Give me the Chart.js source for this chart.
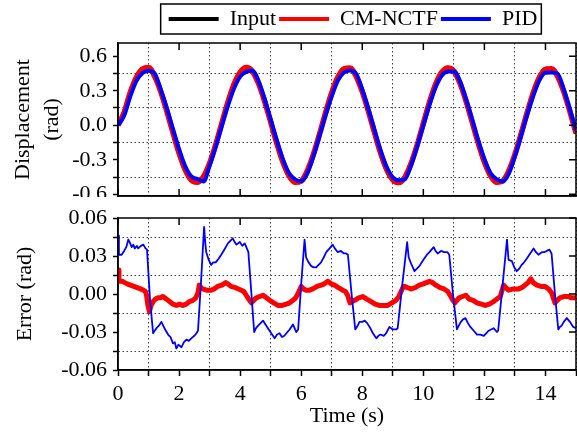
<!DOCTYPE html>
<html>
<head>
  <title>Displacement and error</title>
  <script src="https://cdn.jsdelivr.net/npm/chart.js"></script>
  <style>
    body { margin: 0; background: #fff; }
    #wrap { position: relative; width: 577px; height: 432px; }
    canvas { position: absolute; left: 0; }
  </style>
</head>
<body>
  <div id="wrap">
    <canvas id="dispChart" width="577" height="197" style="top:0"></canvas>
    <canvas id="errChart" width="577" height="235" style="top:197px"></canvas>
  </div>

  <script>
    // time base of the displacement curves (s)
    const dispTime = [0, 0.2, 0.4, 0.6, 0.8, 1, 1.2, 1.4, 1.6, 1.8, 2, 2.2, 2.4, 2.6, 2.8, 3, 3.2, 3.4, 3.6, 3.8,
      4, 4.2, 4.4, 4.6, 4.8, 5, 5.2, 5.4, 5.6, 5.8, 6, 6.2, 6.4, 6.6, 6.8, 7, 7.2, 7.4, 7.6, 7.8,
      8, 8.2, 8.4, 8.6, 8.8, 9, 9.2, 9.4, 9.6, 9.8, 10, 10.2, 10.4, 10.6, 10.8, 11, 11.2, 11.4, 11.6, 11.8,
      12, 12.2, 12.4, 12.6, 12.8, 13, 13.2, 13.4, 13.6, 13.8, 14, 14.2, 14.4, 14.6, 14.8, 15];

    const inputDisp = [0, 0.118, 0.290, 0.421, 0.491, 0.491, 0.421, 0.290, 0.118, -0.071,
      -0.250, -0.393, -0.480, -0.498, -0.444, -0.327, -0.164, 0.024, 0.208, 0.362,
      0.464, 0.500, 0.464, 0.362, 0.208, 0.024, -0.164, -0.327, -0.444, -0.498,
      -0.480, -0.393, -0.250, -0.071, 0.118, 0.290, 0.421, 0.491, 0.491, 0.421,
      0.290, 0.118, -0.071, -0.250, -0.393, -0.480, -0.498, -0.444, -0.327, -0.164,
      0.024, 0.208, 0.362, 0.464, 0.500, 0.464, 0.362, 0.208, 0.024, -0.164,
      -0.327, -0.444, -0.498, -0.480, -0.393, -0.250, -0.071, 0.118, 0.290, 0.421,
      0.491, 0.491, 0.421, 0.290, 0.118, -0.071];

    const cmDisp = [0, 0.109, 0.283, 0.416, 0.488, 0.503, 0.426, 0.293, 0.123, -0.063,
      -0.241, -0.385, -0.475, -0.496, -0.448, -0.330, -0.169, 0.017, 0.200, 0.356,
      0.460, 0.501, 0.470, 0.365, 0.210, 0.029, -0.155, -0.318, -0.438, -0.496,
      -0.486, -0.396, -0.254, -0.078, 0.109, 0.283, 0.417, 0.491, 0.497, 0.425,
      0.292, 0.123, -0.063, -0.241, -0.384, -0.474, -0.498, -0.449, -0.331, -0.170,
      0.016, 0.198, 0.355, 0.459, 0.498, 0.471, 0.365, 0.210, 0.028, -0.156,
      -0.318, -0.438, -0.495, -0.486, -0.397, -0.254, -0.077, 0.108, 0.282, 0.415,
      0.486, 0.491, 0.425, 0.292, 0.120, -0.068];

    const pidDisp = [0, 0.083, 0.249, 0.385, 0.453, 0.474, 0.450, 0.312, 0.149, -0.032,
      -0.207, -0.355, -0.445, -0.467, -0.489, -0.353, -0.189, -0.007, 0.168, 0.319,
      0.423, 0.464, 0.474, 0.387, 0.231, 0.053, -0.130, -0.294, -0.416, -0.470,
      -0.486, -0.420, -0.271, -0.095, 0.086, 0.251, 0.388, 0.459, 0.477, 0.448,
      0.311, 0.143, -0.038, -0.218, -0.363, -0.453, -0.479, -0.469, -0.349, -0.184,
      -0.003, 0.175, 0.328, 0.431, 0.467, 0.468, 0.384, 0.227, 0.052, -0.132,
      -0.294, -0.416, -0.468, -0.488, -0.420, -0.271, -0.093, 0.090, 0.254, 0.390,
      0.457, 0.458, 0.446, 0.312, 0.140, -0.045];

    // [time, error]
    const pidError = [[0,0.046],[0.03,0.031],[0.12,0.031],[0.2,0.034],[0.27,0.037],[0.34,0.043],[0.4,0.040],[0.45,0.037],
      [0.5,0.039],[0.55,0.036],[0.62,0.038],[0.66,0.036],[0.75,0.038],[0.83,0.039],[0.9,0.036],[0.95,0.035],
      [1.05,-0.005],[1.15,-0.031],[1.2,-0.029],[1.26,-0.027],[1.34,-0.025],[1.42,-0.022],[1.52,-0.027],[1.64,-0.032],
      [1.72,-0.034],[1.8,-0.039],[1.86,-0.038],[1.91,-0.043],[1.98,-0.040],[2.08,-0.042],[2.16,-0.038],[2.24,-0.036],
      [2.32,-0.037],[2.4,-0.035],[2.5,-0.033],[2.57,-0.031],[2.62,-0.029],[2.72,0.010],[2.82,0.053],[2.86,0.040],
      [2.89,0.033],[2.97,0.027],[3.05,0.023],[3.12,0.025],[3.2,0.025],[3.3,0.028],[3.38,0.031],[3.48,0.035],
      [3.6,0.040],[3.68,0.042],[3.76,0.044],[3.82,0.041],[3.88,0.039],[3.99,0.041],[4.07,0.038],[4.15,0.040],
      [4.22,0.036],[4.27,0.033],[4.37,0.000],[4.46,-0.030],[4.52,-0.027],[4.59,-0.025],[4.67,-0.023],[4.75,-0.021],
      [4.83,-0.024],[4.91,-0.027],[5.02,-0.031],[5.13,-0.035],[5.21,-0.032],[5.29,-0.031],[5.37,-0.034],[5.45,-0.033],
      [5.55,-0.030],[5.62,-0.028],[5.73,-0.024],[5.8,-0.028],[5.84,-0.030],[5.9,-0.028],[6.0,0.008],[6.11,0.043],
      [6.16,0.029],[6.24,0.025],[6.33,0.022],[6.41,0.021],[6.49,0.021],[6.57,0.023],[6.65,0.025],[6.74,0.029],
      [6.82,0.033],[6.93,0.036],[7.03,0.039],[7.1,0.036],[7.2,0.033],[7.3,0.034],[7.4,0.032],[7.47,0.032],
      [7.53,0.031],[7.65,0.000],[7.77,-0.028],[7.85,-0.025],[7.91,-0.022],[8.0,-0.022],[8.08,-0.021],[8.16,-0.023],
      [8.24,-0.026],[8.35,-0.031],[8.46,-0.035],[8.53,-0.033],[8.6,-0.032],[8.7,-0.033],[8.78,-0.031],[8.89,-0.026],
      [9.0,-0.028],[9.11,-0.028],[9.16,-0.027],[9.3,0.005],[9.47,0.041],[9.52,0.029],[9.6,0.024],[9.71,0.018],
      [9.79,0.020],[9.87,0.022],[9.95,0.025],[10.03,0.028],[10.12,0.031],[10.2,0.033],[10.27,0.035],[10.34,0.037],
      [10.4,0.034],[10.47,0.032],[10.58,0.034],[10.68,0.033],[10.79,0.033],[10.85,0.031],[10.97,0.000],[11.1,-0.028],
      [11.16,-0.025],[11.23,-0.022],[11.3,-0.020],[11.38,-0.019],[11.46,-0.023],[11.54,-0.026],[11.65,-0.029],[11.76,-0.032],
      [11.87,-0.032],[11.98,-0.033],[12.06,-0.031],[12.14,-0.029],[12.22,-0.028],[12.3,-0.027],[12.41,-0.030],[12.45,-0.029],
      [12.6,0.008],[12.74,0.043],[12.79,0.027],[12.9,0.026],[12.98,0.021],[13.06,0.018],[13.14,0.020],[13.22,0.023],
      [13.3,0.025],[13.39,0.028],[13.5,0.032],[13.61,0.036],[13.69,0.033],[13.77,0.031],[13.88,0.033],[13.96,0.033],
      [14.04,0.034],[14.13,0.035],[14.2,0.032],[14.31,0.000],[14.42,-0.028],[14.47,-0.026],[14.53,-0.025],[14.6,-0.022],
      [14.7,-0.019],[14.8,-0.022],[14.91,-0.026],[15.0,-0.027]];

    const cmError = [[0,0.019],[0.03,0.010],[0.14,0.010],[0.22,0.009],[0.3,0.008],[0.41,0.007],[0.52,0.006],[0.63,0.005],
      [0.74,0.004],[0.84,0.003],[0.9,0.002],[0.94,-0.002],[0.98,-0.009],[1.03,-0.014],[1.08,-0.009],[1.15,-0.006],
      [1.23,-0.004],[1.31,-0.003],[1.39,-0.003],[1.47,-0.002],[1.58,-0.004],[1.69,-0.006],[1.8,-0.008],[1.91,-0.009],
      [2.02,-0.008],[2.12,-0.009],[2.23,-0.008],[2.34,-0.006],[2.45,-0.005],[2.55,-0.003],[2.62,0.001],[2.66,0.007],
      [2.72,0.005],[2.77,0.004],[2.9,0.003],[3.05,0.003],[3.15,0.004],[3.26,0.006],[3.4,0.007],[3.53,0.009],
      [3.6,0.008],[3.7,0.006],[3.85,0.005],[4.04,0.003],[4.12,0.002],[4.2,-0.001],[4.28,-0.004],[4.37,-0.007],
      [4.45,-0.005],[4.53,-0.003],[4.64,-0.002],[4.75,-0.001],[4.86,-0.003],[4.97,-0.005],[5.1,-0.007],[5.24,-0.009],
      [5.38,-0.009],[5.51,-0.008],[5.62,-0.007],[5.73,-0.005],[5.82,-0.003],[5.89,0.000],[6.0,0.006],[6.08,0.004],
      [6.16,0.003],[6.27,0.003],[6.38,0.004],[6.52,0.006],[6.65,0.007],[6.76,0.008],[6.87,0.010],[6.98,0.008],
      [7.09,0.007],[7.22,0.005],[7.36,0.003],[7.45,0.002],[7.52,-0.001],[7.6,-0.007],[7.67,-0.006],[7.75,-0.005],
      [7.88,-0.003],[8.02,-0.002],[8.15,-0.004],[8.29,-0.006],[8.42,-0.008],[8.56,-0.009],[8.7,-0.009],[8.83,-0.009],
      [8.97,-0.007],[9.1,-0.005],[9.2,-0.002],[9.27,0.002],[9.35,0.006],[9.38,0.006],[9.48,0.005],[9.6,0.004],
      [9.73,0.005],[9.87,0.007],[10.0,0.008],[10.1,0.009],[10.2,0.010],[10.3,0.009],[10.41,0.007],[10.55,0.005],
      [10.68,0.004],[10.8,0.002],[10.9,-0.002],[10.97,-0.005],[11.03,-0.007],[11.1,-0.005],[11.17,-0.003],[11.28,-0.002],
      [11.39,-0.001],[11.5,-0.004],[11.63,-0.005],[11.76,-0.007],[11.9,-0.008],[12.03,-0.009],[12.16,-0.008],[12.3,-0.006],
      [12.41,-0.004],[12.52,-0.002],[12.58,0.003],[12.63,0.007],[12.7,0.005],[12.79,0.003],[12.95,0.004],[13.12,0.004],
      [13.22,0.005],[13.33,0.007],[13.43,0.009],[13.52,0.012],[13.6,0.009],[13.72,0.007],[13.85,0.006],[13.99,0.006],
      [14.1,0.004],[14.2,0.001],[14.31,-0.007],[14.39,-0.005],[14.47,-0.003],[14.6,-0.002],[14.74,-0.002],[14.85,-0.003],
      [14.96,-0.003],[15.0,-0.004]];

    const timeTicks = [0, 2, 4, 6, 8, 10, 12, 14];
    const dispTicks = [-0.6, -0.3, 0, 0.3, 0.6];
    const errTicks = [-0.06, -0.03, 0, 0.03, 0.06];

    Chart.defaults.font.family = "'Liberation Serif', 'Times New Roman', serif";
    Chart.defaults.font.size = 22;
    Chart.defaults.color = '#000';

    const DOT = '#444';
    const isTick = (v, list) => list.some(l => Math.abs(l - v) < 1e-9);
    const fmt = (v, d) => (Math.abs(v) < 1e-9 ? 0 : v).toFixed(d);

    // closed frame with inward ticks on the top/right (and bottom for the upper panel)
    function framePlugin(yTicks, innerBottom) {
      return {
        id: 'frame',
        afterDraw(chart) {
          const {ctx, chartArea: a, scales: {x, y}} = chart;
          ctx.save();
          ctx.strokeStyle = '#000';
          ctx.lineWidth = 1.5;
          ctx.strokeRect(a.left, a.top, a.right - a.left, a.bottom - a.top);
          ctx.beginPath();
          x.ticks.forEach(t => {
            if (!isTick(t.value, timeTicks)) return;
            const px = x.getPixelForValue(t.value);
            ctx.moveTo(px, a.top); ctx.lineTo(px, a.top + 7);
            if (innerBottom) { ctx.moveTo(px, a.bottom); ctx.lineTo(px, a.bottom - 7); }
          });
          y.ticks.forEach(t => {
            if (!isTick(t.value, yTicks)) return;
            const py = y.getPixelForValue(t.value);
            ctx.moveTo(a.right, py); ctx.lineTo(a.right - 7, py);
          });
          ctx.stroke();
          ctx.restore();
        }
      };
    }

    // boxed legend, nudged right like the original
    const legendBox = {
      id: 'legendBox',
      beforeInit(chart) {
        const lg = chart.legend;
        const fit = lg.fit;
        lg.fit = function () { fit.call(this); this.height += 3; };
        const draw = lg.draw;
        lg.draw = function () {
          this.ctx.save();
          this.ctx.translate(6, 0);
          draw.call(this);
          this.ctx.restore();
        };
      },
      afterDraw(chart) {
        const boxes = chart.legend.legendHitBoxes;
        if (!boxes || !boxes.length) return;
        const left = Math.min(...boxes.map(b => b.left)) + 6 - 8;
        const right = Math.max(...boxes.map(b => b.left + b.width)) + 6 + 4;
        const cy = boxes[0].top + boxes[0].height / 2;
        const ctx = chart.ctx;
        ctx.save();
        ctx.strokeStyle = '#000';
        ctx.lineWidth = 1.5;
        ctx.strokeRect(left, cy - 15, right - left, 30);
        ctx.restore();
      }
    };

    const toXY = (ts, vs) => ts.map((t, i) => ({x: t, y: vs[i]}));
    const pairs = p => p.map(d => ({x: d[0], y: d[1]}));

    function xAxis(showLabels) {
      return {
        type: 'linear', min: 0, max: 15,
        ticks: {
          stepSize: 1, autoSkip: false, maxRotation: 0, display: showLabels, padding: 5,
          callback: v => isTick(v, timeTicks) ? String(v) : ''
        },
        grid: {
          color: c => isTick(c.tick.value, timeTicks) ? 'rgba(0,0,0,0)' : DOT,
          lineWidth: 1, drawTicks: showLabels, tickLength: 6, tickColor: '#000', tickWidth: 1.5
        },
        border: {display: true, color: '#000', width: 1.5, dash: [1.5, 2.5]},
        title: {display: showLabels, text: 'Time (s)', padding: {top: 0, bottom: 1}, font: {lineHeight: 1.3}},
        afterFit: s => { s.height = showLabels ? 62 : 0; s.paddingLeft = 0; s.paddingRight = 0; }
      };
    }

    function yAxis(min, max, step, labelTicks, digits, title, titlePad, padTop, padBottom) {
      return {
        type: 'linear', min: min, max: max,
        ticks: {
          stepSize: step, autoSkip: false, includeBounds: false, padding: 6,
          callback: v => isTick(v, labelTicks) ? fmt(v, digits) : ''
        },
        grid: {
          color: c => isTick(c.tick.value, labelTicks) ? 'rgba(0,0,0,0)' : DOT,
          lineWidth: 1, tickLength: 5, tickColor: '#000', tickWidth: 1.5
        },
        border: {display: true, color: '#000', width: 1.5, dash: [1.5, 2.5]},
        title: {display: true, text: title, padding: {top: titlePad, bottom: 0}, font: {lineHeight: 1.3}},
        afterFit: s => { s.width = 118; s.paddingTop = padTop; s.paddingBottom = padBottom; }
      };
    }

    new Chart(document.getElementById('dispChart'), {
      type: 'line',
      data: {
        datasets: [
          {label: 'Input', data: toXY(dispTime, inputDisp), borderColor: '#000', backgroundColor: '#000', borderWidth: 4, order: 3},
          {label: 'CM-NCTF', data: toXY(dispTime, cmDisp), borderColor: '#ff0000', backgroundColor: '#ff0000', borderWidth: 5.5, order: 2},
          {label: 'PID', data: toXY(dispTime, pidDisp), borderColor: '#0000ff', backgroundColor: '#0000ff', borderWidth: 4, order: 1}
        ]
      },
      options: {
        responsive: false,
        animation: false,
        devicePixelRatio: 1,
        layout: {padding: {top: 5, right: 1, left: 0, bottom: 0}},
        elements: {point: {radius: 0}, line: {cubicInterpolationMode: 'monotone', borderJoinStyle: 'round'}},
        plugins: {
          tooltip: {enabled: false},
          legend: {
            position: 'top', fullSize: false, align: 'center',
            labels: {
              usePointStyle: true, pointStyle: 'line', pointStyleWidth: 50, padding: 3, color: '#000',
              sort: (a, b) => a.datasetIndex - b.datasetIndex,
              generateLabels: chart => Chart.defaults.plugins.legend.labels.generateLabels(chart)
                .map(it => Object.assign(it, {lineWidth: 4}))
            }
          }
        },
        scales: {
          x: xAxis(false),
          y: yAxis(-0.615, 0.715, 0.15, dispTicks, 1, ['Displacement', '(rad)'], 9, 43, 1)
        }
      },
      plugins: [legendBox, framePlugin(dispTicks, true)]
    });

    new Chart(document.getElementById('errChart'), {
      type: 'line',
      data: {
        datasets: [
          {label: 'CM-NCTF', data: pairs(cmError), borderColor: '#ff0000', borderWidth: 5, order: 2},
          {label: 'PID', data: pairs(pidError), borderColor: '#0000ff', borderWidth: 1.8, order: 1}
        ]
      },
      options: {
        responsive: false,
        animation: false,
        devicePixelRatio: 1,
        layout: {padding: {top: 0, right: 1, left: 0, bottom: 0}},
        elements: {point: {radius: 0}, line: {tension: 0, borderJoinStyle: 'round'}},
        plugins: {legend: {display: false}, tooltip: {enabled: false}},
        scales: {
          x: xAxis(true),
          y: yAxis(-0.06, 0.06, 0.015, errTicks, 2, 'Error (rad)', 11, 21, 0)
        }
      },
      plugins: [framePlugin(errTicks, false)]
    });
  </script>
</body>
</html>
